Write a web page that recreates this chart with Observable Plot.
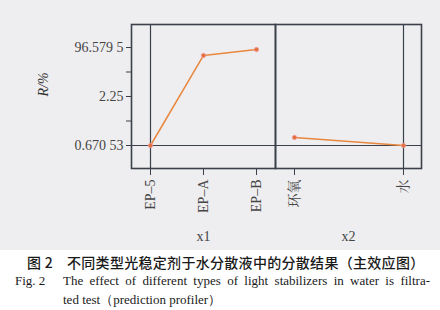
<!DOCTYPE html>
<html>
<head>
<meta charset="utf-8">
<script src="https://cdn.jsdelivr.net/npm/d3@7"></script>
<script src="https://cdn.jsdelivr.net/npm/@observablehq/plot@0.6"></script>
<style>
  html, body { margin: 0; padding: 0; background: #ffffff; }
  #wrap { width: 440px; height: 310px; overflow: hidden; }
  #charts { display: flex; flex-wrap: nowrap; background: #eeeef0; width: 440px; height: 250px; }
  #charts svg { flex: none; max-width: none; }
  .cn { font-family: "Noto Sans CJK SC", sans-serif; font-size: 14px; line-height: 18px; margin-top: 3px; padding-left: 27px; white-space: nowrap; color: #1a1a1a; font-weight: 500; letter-spacing: 0.3px; }
  .en { font-family: "Liberation Serif", serif; font-size: 13px; line-height: 19px; white-space: nowrap; color: #1a1a1a; display: flex; }
  .lab { display: inline-block; flex: none; }
  .just { display: inline-block; width: 367px; text-align: justify; text-align-last: justify; white-space: normal; }
</style>
</head>
<body>
<div id="wrap">
  <div id="charts"></div>
  <div class="cn"><span class="lab" style="width:40px">图 2</span>不同类型光稳定剂于水分散液中的分散结果（主效应图）</div>
  <div class="en" style="padding-left:15px"><span class="lab" style="width:48px">Fig. 2</span><span class="just">The effect of different types of light stabilizers in water is filtra-</span></div>
  <div class="en" style="padding-left:63px">ted test（prediction profiler）</div>
</div>
<script>
// ---- data ----
const x1Cats = ["EP–5", "EP–A", "EP–B"];
const x1Values = [0.67053, 81.2, 92.7];
const x2Cats = ["环氧", "水"];
const x2Values = [0.93, 0.67053];
const yTickValues = [0.67053, 2.25, 96.5795];
const yTickLabels = ["0.670 53", "2.25", "96.579 5"];
const currentY = 0.67053;      // profiler crosshair (predicted value)
const currentX1 = "EP–5";
const currentX2 = "水";
const factorNames = ["x1", "x2"];
const yLabel = "R/%";

const d1 = x1Cats.map((c, i) => ({cat: c, v: x1Values[i]}));
const d2 = x2Cats.map((c, i) => ({cat: c, v: x2Values[i]}));
// minor ticks at the midpoint of each piecewise segment
const minorTicks = d3.pairs(yTickValues).map(([a, b]) => (a + b) / 2);
const labelOf = v => { const i = yTickValues.indexOf(v); return i >= 0 ? yTickLabels[i] : ""; };

const frameColor = "#3b404b";
const lineColor = "#e8873e";
const dotColor = "#e6703a";
const font = "'Liberation Serif', 'Noto Serif CJK SC', 'Noto Sans CJK SC', serif";

const yScale = {type: "linear", domain: yTickValues, range: [145, 96, 47]};
const H = 250, MT = 24, MB = 82;

const p1 = Plot.plot({
  width: 275, height: H, marginLeft: 131, marginRight: 0, marginTop: MT, marginBottom: MB,
  style: {background: "transparent", fontFamily: font, fontSize: "14px", color: "#454545", overflow: "visible"},
  x: {type: "point", domain: x1Cats, padding: 0.346},
  y: yScale,
  marks: [
    Plot.axisY({ticks: [...yTickValues, ...minorTicks], tickFormat: labelOf, tickSize: 5, tickPadding: 3, label: null, stroke: frameColor, fontSize: 14}),
    Plot.axisX({tickRotate: -90, tickSize: 7, tickPadding: 4, label: null, stroke: frameColor, fontSize: 14}),
    Plot.ruleY([currentY], {stroke: frameColor, strokeWidth: 1.2}),
    Plot.ruleX([currentX1], {stroke: frameColor, strokeWidth: 1.2}),
    Plot.line(d1, {x: "cat", y: "v", stroke: lineColor, strokeWidth: 1.5}),
    Plot.dot(d1, {x: "cat", y: "v", r: 2.2, fill: dotColor, stroke: "#f0a0a8", strokeWidth: 0.8}),
    Plot.frame({stroke: frameColor, strokeWidth: 1.6}),
    Plot.text([yLabel], {frameAnchor: "left", dx: -88, rotate: -90, text: d => d, fontStyle: "italic", fontSize: 14, fill: "#333"}),
    Plot.text([factorNames[0]], {frameAnchor: "bottom", dy: 72, text: d => d, fontSize: 14, fill: "#444"})
  ]
});

const p2 = Plot.plot({
  width: 165, height: H, marginLeft: 0, marginRight: 19, marginTop: MT, marginBottom: MB,
  style: {background: "transparent", fontFamily: font, fontSize: "14px", color: "#454545", overflow: "visible"},
  x: {type: "point", domain: x2Cats, padding: 0.164},
  y: {...yScale, axis: null},
  marks: [
    Plot.axisX({tickRotate: -90, tickSize: 7, tickPadding: 4, label: null, stroke: frameColor, fontSize: 14}),
    Plot.ruleY([currentY], {stroke: frameColor, strokeWidth: 1.2}),
    Plot.ruleX([currentX2], {stroke: frameColor, strokeWidth: 1.2}),
    Plot.line(d2, {x: "cat", y: "v", stroke: lineColor, strokeWidth: 1.5}),
    Plot.dot(d2, {x: "cat", y: "v", r: 2.2, fill: dotColor, stroke: "#f0a0a8", strokeWidth: 0.8}),
    Plot.frame({stroke: frameColor, strokeWidth: 1.6}),
    Plot.text([factorNames[1]], {frameAnchor: "bottom", dy: 72, text: d => d, fontSize: 14, fill: "#444"})
  ]
});

document.getElementById("charts").append(p1, p2);
</script>
</body>
</html>
